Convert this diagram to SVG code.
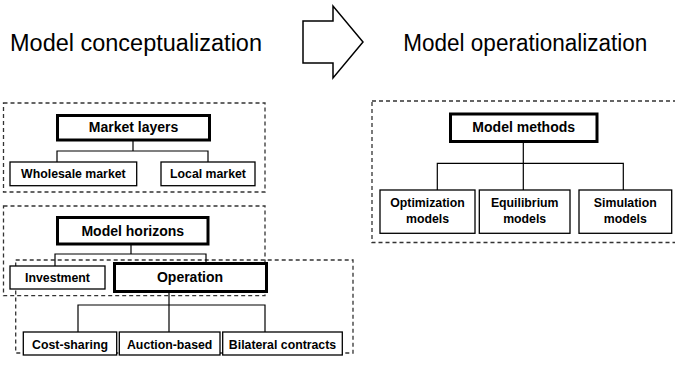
<svg xmlns="http://www.w3.org/2000/svg" width="675" height="367" viewBox="0 0 675 367">
<style>
  .hdr { font-family: "Liberation Sans", Arial, sans-serif; font-size: 23.5px; fill: #000; }
  .dash { fill: none; stroke: #333; stroke-width: 1.3; stroke-dasharray: 4 3; }
  .box { fill: #fff; stroke: #000; stroke-width: 1.3; }
  .tbox { fill: #fff; stroke: #000; stroke-width: 3; }
  .lbl { font-family: "Liberation Sans", Arial, sans-serif; font-weight: bold; font-size: 12.3px; fill: #000; text-anchor: middle; }
  .big { font-family: "Liberation Sans", Arial, sans-serif; font-weight: bold; font-size: 14px; fill: #000; text-anchor: middle; }
  .conn { fill: none; stroke: #000; stroke-width: 1.2; }
</style>
<rect width="675" height="367" fill="#fff"/>
<text class="hdr" x="10" y="50.7" textLength="252" lengthAdjust="spacingAndGlyphs">Model conceptualization</text>
<text class="hdr" x="403.3" y="50.7" textLength="244" lengthAdjust="spacingAndGlyphs">Model operationalization</text>
<polygon points="303,21 333,21 333,6 363,42 333,78 333,63 303,63" fill="#fff" stroke="#000" stroke-width="1.5"/>

<g id="frames">
  <rect class="dash" x="3.5" y="103" width="261.5" height="89"/>
  <rect class="dash" x="3.5" y="206" width="261.5" height="89.7"/>
  <rect class="dash" x="15.7" y="260" width="337.3" height="93"/>
  <rect class="dash" x="372" y="101" width="330" height="141.5"/>
</g>

<g id="connectors">
  <path class="conn" d="M133,140 V151 M57,162 V151 H208 V162"/>
  <path class="conn" d="M131,244 V254 M55,266 V254 H206 V263"/>
  <path class="conn" d="M169,291.5 V332 M78,332 V305 H265 V332"/>
  <path class="conn" d="M523.3,142 V190 M437.3,190 V163.3 H623.3 V190"/>
</g>

<g id="market-layers"><rect class="tbox" x="57.5" y="115.5" width="152" height="24.5"/><text class="big" x="133.5" y="131.7">Market layers</text></g>
<g id="wholesale-market"><rect class="box" x="10" y="162" width="126.7" height="23.7"/><text class="lbl" x="73.4" y="177.5">Wholesale market</text></g>
<g id="local-market"><rect class="box" x="161" y="162" width="94" height="23.7"/><text class="lbl" x="208" y="177.5">Local market</text></g>

<g id="model-horizons"><rect class="tbox" x="57.5" y="217.5" width="150.5" height="26.5"/><text class="big" x="132.8" y="235.5">Model horizons</text></g>
<g id="investment"><rect class="box" x="10" y="266" width="95" height="23"/><text class="lbl" x="57.5" y="282.3">Investment</text></g>
<g id="operation"><rect class="tbox" x="114.5" y="263.5" width="152" height="28"/><text class="big" x="190" y="282.3">Operation</text></g>
<g id="cost-sharing"><rect class="box" x="23.3" y="332" width="93.4" height="23"/><text class="lbl" x="70" y="348.5">Cost-sharing</text></g>
<g id="auction-based"><rect class="box" x="119.3" y="332" width="100.7" height="23"/><text class="lbl" x="169.7" y="348.5">Auction-based</text></g>
<g id="bilateral-contracts"><rect class="box" x="222.7" y="332" width="119.6" height="23"/><text class="lbl" x="282.5" y="348.5">Bilateral contracts</text></g>

<g id="model-methods"><rect class="tbox" x="450.5" y="114" width="146.5" height="27.5"/><text class="big" x="523.7" y="132">Model methods</text></g>
<g id="optimization-models"><rect class="box" x="380" y="190" width="95" height="43.3"/><text class="lbl" x="427.5" y="207.3">Optimization<tspan x="427.5" y="223.3">models</tspan></text></g>
<g id="equilibrium-models"><rect class="box" x="479.3" y="190" width="90.7" height="43.3"/><text class="lbl" x="524.7" y="207.3">Equilibrium<tspan x="524.7" y="223.3">models</tspan></text></g>
<g id="simulation-models"><rect class="box" x="579" y="190" width="92.7" height="43.3"/><text class="lbl" x="625.3" y="207.3">Simulation<tspan x="625.3" y="223.3">models</tspan></text></g>
</svg>
